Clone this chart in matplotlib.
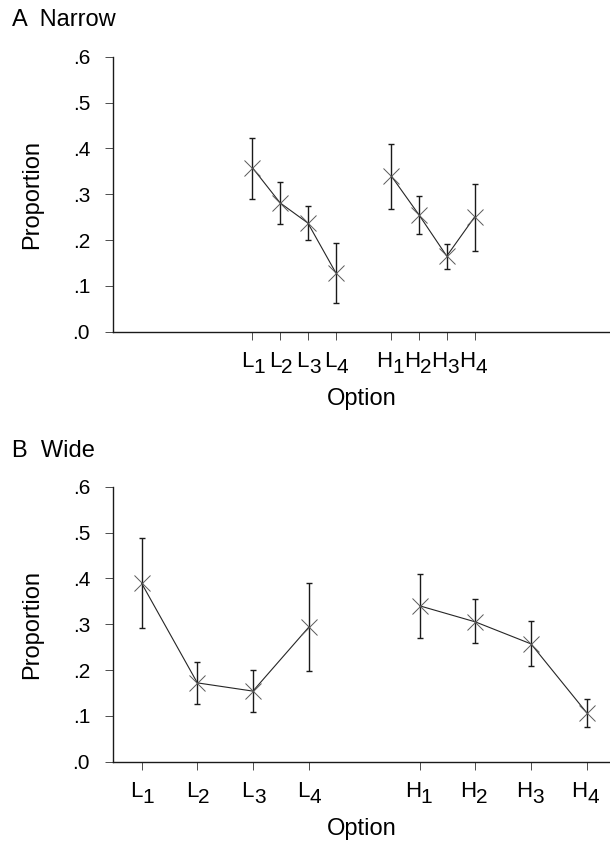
import matplotlib
matplotlib.use("Agg")
import matplotlib.pyplot as plt
import matplotlib.transforms as mtrans
from matplotlib.ticker import FixedLocator, FuncFormatter

plt.rcParams['font.family'] = ['Liberation Sans', 'DejaVu Sans']

option_letters = ["L", "L", "L", "L", "H", "H", "H", "H"]
option_nums = ["1", "2", "3", "4", "1", "2", "3", "4"]
option_pos = [1, 2, 3, 4, 6, 7, 8, 9]

# Panel A: narrow
narrow_mean = [0.358, 0.281, 0.237, 0.129, 0.340, 0.255, 0.165, 0.250]
narrow_upper = [0.422, 0.327, 0.274, 0.193, 0.410, 0.295, 0.191, 0.323]
narrow_lower = [0.290, 0.236, 0.200, 0.062, 0.268, 0.213, 0.136, 0.176]

# Panel B: wide
wide_mean = [0.389, 0.172, 0.154, 0.293, 0.340, 0.305, 0.257, 0.107]
wide_upper = [0.487, 0.218, 0.199, 0.390, 0.410, 0.354, 0.308, 0.137]
wide_lower = [0.291, 0.125, 0.108, 0.197, 0.269, 0.260, 0.209, 0.076]

yticks = [0.0, 0.1, 0.2, 0.3, 0.4, 0.5, 0.6]


def px(n):
    # pixel offset -> inches at dpi 100
    return n / 100.0


def draw_panel(ax, mean, upper, lower, xlim):
    for grp in (slice(0, 4), slice(4, 8)):
        xs = option_pos[grp]
        m = mean[grp]
        err = [[a - b for a, b in zip(m, lower[grp])],
               [b - a for a, b in zip(m, upper[grp])]]
        ax.errorbar(xs, m, yerr=err, fmt='none', ecolor='0.1',
                    elinewidth=1.0, capsize=2.5, capthick=1.0)
        ax.plot(xs, m, color='0.15', linewidth=0.8)
        ax.plot(xs, m, linestyle='none', marker='x', markersize=11,
                markeredgewidth=0.7, color='0.35')
    ax.set_xlim(*xlim)
    ax.set_ylim(0, 0.6)
    ax.yaxis.set_major_locator(FixedLocator(yticks))
    ax.yaxis.set_major_formatter(FuncFormatter(lambda v, p: ("%.1f" % v)[1:]))
    ax.set_xticks(option_pos)
    ax.set_xticklabels([])
    ax.spines['top'].set_visible(False)
    ax.spines['right'].set_visible(False)
    for s in ('left', 'bottom'):
        ax.spines[s].set_linewidth(1.0)
        ax.spines[s].set_color('0.1')
    ax.tick_params(axis='both', direction='out', length=5.5, width=0.7,
                   color='0.3', labelsize=15, pad=11)

    # option labels with near full-size subscripts
    base = mtrans.blended_transform_factory(ax.transData, ax.transAxes)
    t_let = base + mtrans.ScaledTranslation(px(1), px(-19), ax.figure.dpi_scale_trans)
    t_num = base + mtrans.ScaledTranslation(px(1), px(-26), ax.figure.dpi_scale_trans)
    for x, let, num in zip(option_pos, option_letters, option_nums):
        ax.text(x, 0, let, transform=t_let, ha='right', va='top', fontsize=16)
        ax.text(x, 0, num, transform=t_num, ha='left', va='top', fontsize=15)

    ax.set_ylabel("Proportion", fontsize=17)
    ax.yaxis.set_label_coords(-0.141, 0.5)
    ax.set_xlabel("Option", fontsize=17)
    ax.xaxis.set_label_coords(0.5, -0.203)


fig = plt.figure(figsize=(6.1, 8.43), dpi=100)
ax_a = fig.add_axes([113 / 610, 1 - 331.7 / 843, 1 - 113 / 610, 275 / 843])
ax_b = fig.add_axes([113 / 610, 1 - 761.7 / 843, 1 - 113 / 610, 275 / 843])

draw_panel(ax_a, narrow_mean, narrow_upper, narrow_lower, (-4.02, 13.88))
draw_panel(ax_b, wide_mean, wide_upper, wide_lower, (0.484, 9.42))

fig.text(12 / 610, 1 - 20 / 843, "A  Narrow", fontsize=17, va='center', ha='left')
fig.text(12 / 610, 1 - 451 / 843, "B  Wide", fontsize=17, va='center', ha='left')

fig.savefig("out.png", dpi=100)
